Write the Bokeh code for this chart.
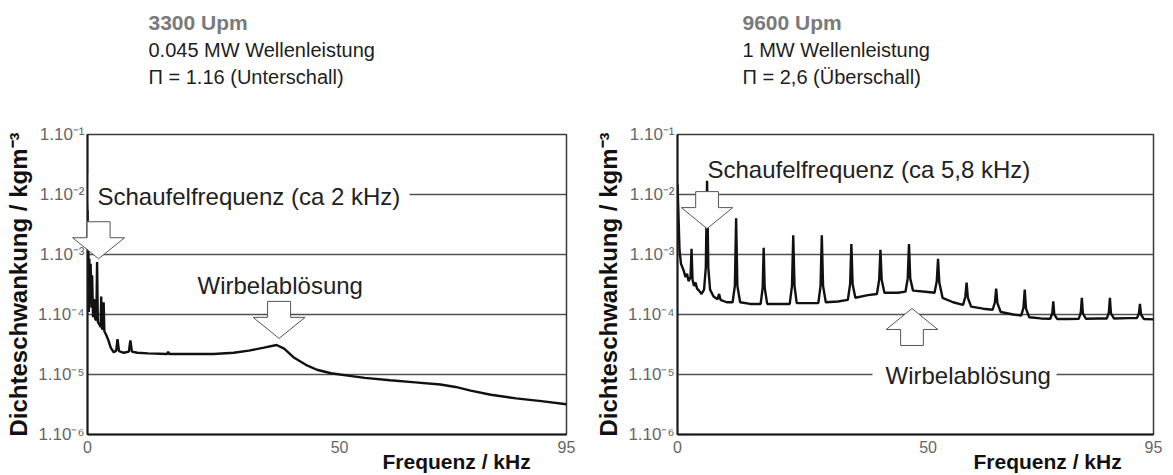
import math
from bokeh.plotting import figure
from bokeh.models import Label, FixedTicker, Range1d, Title
from bokeh.layouts import row
from bokeh.embed import file_html
from bokeh.resources import INLINE

FONT = "Liberation Sans"

# ---------------- data ----------------
# Left: 3300 Upm  (frequency kHz, density fluctuation kg/m^3)
left_freq = [0.0, 0.08, 0.16, 0.26, 0.36, 0.5, 0.62, 0.78, 0.92, 1.1, 1.3, 1.5,
             1.75, 1.9, 2.05, 2.35, 2.6, 2.72, 2.85, 3.05, 3.2, 3.35, 3.7, 4.1,
             4.6, 5.2, 5.7, 5.95, 6.25, 7.2, 8.2, 8.5, 8.8, 9.9, 12.0, 15.8,
             16.0, 16.2, 20.0, 25.0, 29.0, 32.0, 35.0, 37.5, 39.0, 41.0, 43.3,
             45.5, 48.3, 52.0, 55.0, 60.0, 65.0, 70.0, 73.0, 76.0, 80.0, 85.0,
             90.0, 95.0]
left_dens = [5.5e-3, 9e-4, 2.0e-3, 1.1e-4, 8.5e-4, 2.5e-4, 7.0e-4, 1.3e-4, 4.5e-4,
             9.0e-5, 1.8e-4, 8.5e-5, 8.0e-5, 7.5e-4, 7.5e-5, 6.8e-5, 6.2e-5, 2.0e-4,
             6.0e-5, 5.6e-5, 1.6e-4, 5.2e-5, 4.6e-5, 3.8e-5, 2.8e-5, 2.35e-5,
             2.5e-5, 3.9e-5, 2.45e-5, 2.3e-5, 2.4e-5, 3.7e-5, 2.4e-5, 2.3e-5,
             2.25e-5, 2.2e-5, 2.4e-5, 2.2e-5, 2.2e-5, 2.2e-5, 2.3e-5, 2.5e-5,
             2.8e-5, 3.1e-5, 2.7e-5, 1.9e-5, 1.45e-5, 1.2e-5, 1.05e-5, 9.5e-6,
             8.8e-6, 8.0e-6, 7.4e-6, 6.8e-6, 6.2e-6, 5.4e-6, 4.6e-6, 4.0e-6,
             3.6e-6, 3.2e-6]

# Right: 9600 Upm
right_freq = [0.0, 0.15, 0.4, 0.7, 1.2, 1.6, 1.9, 2.2, 2.6, 2.8, 3.0, 3.3, 3.6, 3.9,
              4.3, 4.8, 5.3, 5.65, 5.9, 6.15, 6.5, 7.2, 8.0, 8.3, 8.6, 9.8, 11.0,
              11.45, 11.7, 11.95, 12.5, 14.5, 16.6, 17.0, 17.2, 17.4, 17.9, 20.2,
              22.4, 22.85, 23.1, 23.35, 23.8, 26.0, 28.1, 28.55, 28.8, 29.05, 29.6,
              32.0, 34.0, 34.45, 34.7, 34.95, 35.5, 38.0, 39.8, 40.25, 40.5, 40.75,
              41.3, 44.0, 45.5, 45.95, 46.2, 46.45, 47.0, 49.5, 51.3, 51.75, 52.0,
              52.25, 52.9, 55.0, 57.0, 57.45, 57.7, 57.95, 58.6, 61.0, 62.9, 63.35,
              63.6, 63.85, 64.5, 67.0, 68.6, 69.05, 69.3, 69.55, 70.2, 72.5, 74.4,
              74.8, 75.0, 75.2, 75.8, 78.0, 80.1, 80.5, 80.7, 80.9, 81.5, 84.0,
              85.7, 86.1, 86.3, 86.5, 87.1, 90.0, 91.7, 92.1, 92.3, 92.5, 93.1, 95.0]
right_dens = [1.5e-2, 6e-3, 1.2e-3, 7e-4, 5.5e-4, 4.2e-4, 4.8e-4, 3.6e-4, 4.2e-4,
              1.25e-3, 3.8e-4, 3.0e-4, 3.4e-4, 2.7e-4, 2.5e-4, 2.2e-4, 2.6e-4,
              6e-4, 1.7e-2, 6e-4, 2.6e-4, 2.0e-4, 1.8e-4, 2.2e-4, 1.75e-4, 1.6e-4,
              1.6e-4, 3.0e-4, 4.0e-3, 3.0e-4, 1.6e-4, 1.5e-4, 1.5e-4, 2.8e-4,
              1.3e-3, 2.8e-4, 1.5e-4, 1.5e-4, 1.5e-4, 3.0e-4, 2.1e-3, 3.0e-4,
              1.55e-4, 1.55e-4, 1.55e-4, 3.0e-4, 2.1e-3, 3.0e-4, 1.6e-4, 1.65e-4,
              1.75e-4, 3.2e-4, 1.5e-3, 3.2e-4, 1.9e-4, 2.1e-4, 2.2e-4, 3.8e-4,
              1.2e-3, 3.8e-4, 2.3e-4, 2.3e-4, 2.4e-4, 4.0e-4, 1.5e-3, 4.0e-4,
              2.5e-4, 2.4e-4, 2.3e-4, 3.6e-4, 8.5e-4, 3.4e-4, 1.9e-4, 1.6e-4,
              1.45e-4, 2.0e-4, 3.4e-4, 1.9e-4, 1.35e-4, 1.25e-4, 1.2e-4, 1.6e-4,
              2.7e-4, 1.55e-4, 1.1e-4, 1.0e-4, 9.6e-5, 1.3e-4, 2.6e-4, 1.25e-4,
              9.0e-5, 8.6e-5, 8.5e-5, 1.05e-4, 1.65e-4, 1.0e-4, 8.4e-5, 8.4e-5,
              8.5e-5, 1.1e-4, 1.9e-4, 1.05e-4, 8.5e-5, 8.6e-5, 8.6e-5, 1.1e-4,
              1.9e-4, 1.05e-4, 8.6e-5, 8.7e-5, 8.7e-5, 1.05e-4, 1.5e-4, 1.0e-4,
              8.4e-5, 8.3e-5]

x_ticks = [0, 50, 95]
y_ticks = [1e-6, 1e-5, 1e-4, 1e-3, 1e-2, 1e-1]
y_tick_labels = ["1.10\u207b\u2076", "1.10\u207b\u2075", "1.10\u207b\u2074",
                 "1.10\u207b\u00b3", "1.10\u207b\u00b2", "1.10\u207b\u00b9"]

left_titles = ["3300 Upm", "0.045 MW Wellenleistung", "\u03a0 = 1.16 (Unterschall)"]
right_titles = ["9600 Upm", "1 MW Wellenleistung", "\u03a0 = 2,6 (\u00dcberschall)"]

# arrow tips: (kHz, value, direction)
left_arrows = [(2.2, 8.5e-4, "down"), (38.0, 4.0e-5, "down")]
right_arrows = [(5.9, 2.7e-3, "down"), (46.8, 1.26e-4, "up")]

# annotations: text, reference value, x px offset, y px offset, white background width (px)
left_notes = [("Schaufelfrequenz (ca 2 kHz)", 1e-2, 10, -2, 322),
              ("Wirbelabl\u00f6sung", 1e-4, 110, 29, 0)]
right_notes = [("Schaufelfrequenz (ca 5,8 kHz)", 1e-2, 30, 25, 0),
               ("Wirbelabl\u00f6sung", 1e-5, 208, -1, 184)]

Y_TITLE = "Dichteschwankung / kgm\u207b\u00b3"
X_TITLE = "Frequenz / kHz"

HEIGHT = 475
TOP = 134
BOTTOM = 41


def arrow_poly(xt, yt, direction, fx, fy):
    hw, hh, sw, sl = 26, 21, 11.5, 16
    s = 1 if direction == "down" else -1
    pts = [(0, 0), (hw, hh), (sw, hh), (sw, hh + sl), (-sw, hh + sl), (-sw, hh), (-hw, hh)]
    xs = [xt + dx * fx for dx, dy in pts]
    ys = [yt * 10 ** (s * dy * fy) for dx, dy in pts]
    return xs, ys


def make_panel(width, bl, br, freq, dens, titles, title_dx, xtitle_dx, notes, arrows):
    fw = width - bl - br
    fh = HEIGHT - TOP - BOTTOM
    p = figure(width=width, height=HEIGHT, x_range=Range1d(0, 95),
               y_range=Range1d(1e-6, 1e-1), y_axis_type="log",
               output_backend="svg", toolbar_location=None,
               min_border_left=bl, min_border_right=br,
               min_border_top=TOP, min_border_bottom=BOTTOM)
    p.background_fill_color = "white"
    p.border_fill_color = "white"
    p.outline_line_color = "#3a3a3a"
    p.outline_line_width = 1.5
    p.xgrid.visible = False
    p.ygrid.ticker = FixedTicker(ticks=y_ticks)
    p.ygrid.grid_line_color = "#505050"
    p.ygrid.grid_line_width = 1.4

    for ax in (p.xaxis, p.yaxis):
        ax.major_tick_out = 0
        ax.major_tick_in = 0
        ax.minor_tick_out = 0
        ax.minor_tick_in = 0
        ax.axis_line_width = 2
        ax.axis_line_color = "#1a1a1a"
        ax.major_label_text_font = FONT
        ax.major_label_text_color = "#666666"
        ax.axis_label_text_font = FONT
        ax.axis_label_text_font_style = "bold"
        ax.axis_label_text_color = "#111111"

    # y axis: 1.10^-n labels and title
    p.yaxis.ticker = FixedTicker(ticks=y_ticks)
    p.yaxis.major_label_overrides = {t: s for t, s in zip(y_ticks, y_tick_labels)}
    p.yaxis.major_label_text_font_size = "17px"
    p.yaxis.major_label_standoff = 3
    p.yaxis.axis_label = Y_TITLE
    p.yaxis.axis_label_text_font_size = "24px"
    p.yaxis.axis_label_standoff = 3

    # x axis
    p.xaxis.ticker = FixedTicker(ticks=x_ticks)
    p.xaxis.major_label_text_font_size = "16px"
    p.xaxis.major_label_standoff = 6

    fx = 95.0 / fw
    fy = 5.0 / fh

    # white backgrounds behind annotations that sit on a grid line
    for txt, ref, dx, dy, bgw in notes:
        if bgw:
            p.rect(x=[(dx - 10 + bgw / 2) * fx], y=[ref * 10 ** ((dy + 8) * fy)],
                   width=bgw, height=30, width_units="screen", height_units="screen",
                   fill_color="white", line_color=None)

    p.line(freq, dens, line_color="#111111", line_width=2.4)

    for xt, yt, d in arrows:
        xs, ys = arrow_poly(xt, yt, d, fx, fy)
        r = p.patch(xs, ys, fill_color="white", line_color="#555555", line_width=1)
        r.level = "overlay"

    # titles stacked above the frame (closest first)
    p.add_layout(Title(text="\u00a0", text_font_size="1px", standoff=42), "above")
    for i in (2, 1, 0):
        p.add_layout(Title(text=titles[i], align="left", offset=title_dx, standoff=3,
                           text_font=FONT,
                           text_font_size="21px" if i == 0 else "20px",
                           text_font_style="bold" if i == 0 else "normal",
                           text_color="#7a7a7a" if i == 0 else "#1e1e1e"), "above")

    # x axis title, to the right of the middle tick label
    try:
        xt = Title(text=X_TITLE, align="left", offset=xtitle_dx, standoff=-12,
                   vertical_align="top", text_font=FONT, text_font_size="21px",
                   text_font_style="bold", text_color="#111111")
        p.add_layout(xt, "below")
    except Exception:
        p.xaxis.axis_label = "\u00a0" * 45 + X_TITLE
        p.xaxis.axis_label_text_font_size = "21px"
        p.xaxis.axis_label_standoff = -7

    # notes
    for txt, ref, dx, dy, bgw in notes:
        p.add_layout(Label(x=0, y=ref, x_offset=dx, y_offset=dy, text=txt,
                           text_align="left", text_baseline="alphabetic", text_font=FONT,
                           text_font_size="24px", text_color="#222222"))
    return p


p1 = make_panel(592, 87, 26, left_freq, left_dens, left_titles, 61, 295, left_notes, left_arrows)
p2 = make_panel(573, 80, 12, right_freq, right_dens, right_titles, 65, 296, right_notes, right_arrows)

layout = row(p1, p2)
open("out.html", "w").write(file_html(layout, INLINE))
